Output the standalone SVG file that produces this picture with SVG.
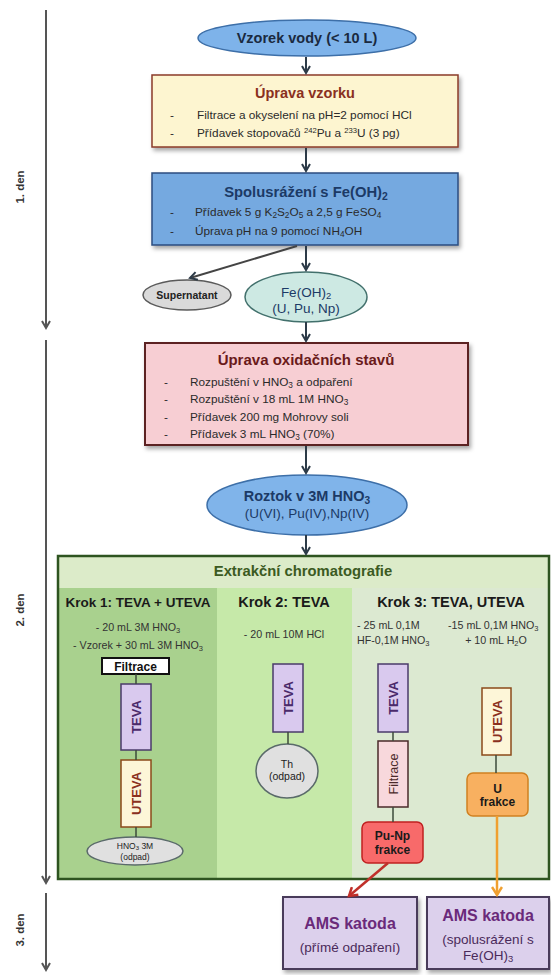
<svg xmlns="http://www.w3.org/2000/svg" width="551" height="975" viewBox="0 0 551 975">
<style>
text{font-family:"Liberation Sans",Arial,sans-serif;}
.t{font-weight:bold;text-anchor:middle;}
.b{font-size:11.8px;fill:#2a2a2a;}
.s{font-size:10.7px;fill:#333;text-anchor:middle;}
.sb{font-size:70%;baseline-shift:-0.25em;}
.sp{font-size:65%;baseline-shift:0.5em;}
.conn{stroke:#2d3b48;stroke-width:2;fill:none;}
.thin{stroke:#3c4a3a;stroke-width:1.5;fill:none;}
.rot{font-weight:bold;font-size:13px;text-anchor:middle;}
</style>
<defs>
<filter id="sh" x="-10%" y="-10%" width="125%" height="130%">
<feDropShadow dx="2" dy="3" stdDeviation="2" flood-color="#000" flood-opacity="0.35"/>
</filter>
<marker id="ah" markerWidth="10" markerHeight="10" refX="8" refY="5" orient="auto" markerUnits="userSpaceOnUse">
<path d="M1,1 L8,5 L1,9" fill="none" stroke="#2d3b48" stroke-width="2"/>
</marker>
<marker id="ahg" markerWidth="10" markerHeight="10" refX="8" refY="5" orient="auto" markerUnits="userSpaceOnUse">
<path d="M1,1 L8,5 L1,9" fill="none" stroke="#555" stroke-width="2"/>
</marker>
<marker id="ahr" markerWidth="12" markerHeight="12" refX="9" refY="6" orient="auto" markerUnits="userSpaceOnUse">
<path d="M1,1 L9,6 L1,11" fill="none" stroke="#c0302a" stroke-width="2.5"/>
</marker>
<marker id="aho" markerWidth="12" markerHeight="12" refX="9" refY="6" orient="auto" markerUnits="userSpaceOnUse">
<path d="M1,1 L9,6 L1,11" fill="none" stroke="#f0a030" stroke-width="2.5"/>
</marker>
</defs>
<rect width="551" height="975" fill="#fff"/>

<g id="timeline">
<line x1="46" y1="10" x2="46" y2="328" stroke="#555" stroke-width="2" marker-end="url(#ahg)"/>
<line x1="46" y1="340" x2="46" y2="883" stroke="#555" stroke-width="2" marker-end="url(#ahg)"/>
<line x1="46" y1="893" x2="46" y2="970" stroke="#555" stroke-width="2" marker-end="url(#ahg)"/>
<text class="t" font-size="11.5" fill="#333" transform="translate(24,187) rotate(-90)">1. den</text>
<text class="t" font-size="11.5" fill="#333" transform="translate(24,610) rotate(-90)">2. den</text>
<text class="t" font-size="11.5" fill="#333" transform="translate(24,930) rotate(-90)">3. den</text>
</g>

<g id="vzorek">
<ellipse cx="307" cy="38" rx="109" ry="18" fill="#7eb3ea" stroke="#3d6fa8" stroke-width="1.5"/>
<text class="t" x="307" y="43" font-size="14.5" fill="#1a2a40">Vzorek vody (&lt; 10 L)</text>
</g>

<g id="uprava-vzorku">
<rect x="152" y="75" width="306" height="72" fill="#fdf5d0" stroke="#8a3b2a" stroke-width="1.5" filter="url(#sh)"/>
<text class="t" x="305" y="98" font-size="14.5" fill="#8a3020">Úprava vzorku</text>
<text class="b" x="170" y="119">-</text>
<text class="b" x="197" y="119">Filtrace a okyselení na pH=2 pomocí HCl</text>
<text class="b" x="170" y="137">-</text>
<text class="b" x="197" y="137">Přídavek stopovačů <tspan class="sp">242</tspan>Pu a <tspan class="sp">233</tspan>U (3 pg)</text>
</g>

<g id="spolusrazeni">
<rect x="152" y="173" width="306" height="72" fill="#74a9e0" stroke="#2b4e80" stroke-width="1.5" filter="url(#sh)"/>
<text class="t" x="306" y="197" font-size="14.8" fill="#1c3a66">Spolusrážení s Fe(OH)<tspan class="sb">2</tspan></text>
<text class="b" x="170" y="216">-</text>
<text class="b" x="195" y="216">Přídavek 5 g K<tspan class="sb">2</tspan>S<tspan class="sb">2</tspan>O<tspan class="sb">5</tspan> a 2,5 g FeSO<tspan class="sb">4</tspan></text>
<text class="b" x="170" y="235">-</text>
<text class="b" x="195" y="235">Úprava pH na 9 pomocí NH<tspan class="sb">4</tspan>OH</text>
</g>

<g id="supernatant">
<ellipse cx="187" cy="295" rx="44" ry="15" fill="#dadada" stroke="#5a5a5a" stroke-width="1.5"/>
<text class="t" x="187" y="299" font-size="10.5" fill="#222">Supernatant</text>
</g>

<g id="feoh2">
<ellipse cx="306" cy="297" rx="61" ry="25" fill="#cde9e3" stroke="#42706c" stroke-width="1.5"/>
<text x="306" y="297" font-size="13.5" text-anchor="middle" fill="#1c3a66">Fe(OH)<tspan class="sb">2</tspan></text>
<text x="306" y="313" font-size="13.5" text-anchor="middle" fill="#1c3a66">(U, Pu, Np)</text>
</g>

<g id="uprava-oxidacnich">
<rect x="145" y="343" width="323" height="102" fill="#f7ced3" stroke="#5b2222" stroke-width="2" filter="url(#sh)"/>
<text class="t" x="306" y="365" font-size="15" fill="#6a1a1a">Úprava oxidačních stavů</text>
<text class="b" x="164" y="386">-</text>
<text class="b" x="190" y="386">Rozpuštění v HNO<tspan class="sb">3</tspan> a odpaření</text>
<text class="b" x="164" y="403">-</text>
<text class="b" x="190" y="403">Rozpuštění v 18 mL 1M HNO<tspan class="sb">3</tspan></text>
<text class="b" x="164" y="421">-</text>
<text class="b" x="190" y="421">Přídavek 200 mg Mohrovy soli</text>
<text class="b" x="164" y="438">-</text>
<text class="b" x="190" y="438">Přídavek 3 mL HNO<tspan class="sb">3</tspan> (70%)</text>
</g>

<g id="roztok">
<ellipse cx="307" cy="505" rx="100" ry="30" fill="#80b4ea" stroke="#3d6fa8" stroke-width="1.5"/>
<text class="t" x="307" y="501" font-size="14.5" fill="#1c3a66">Roztok v 3M HNO<tspan class="sb">3</tspan></text>
<text x="307" y="518" font-size="13.5" text-anchor="middle" fill="#1c3a66">(U(VI), Pu(IV),Np(IV)</text>
</g>

<g id="extrakcni">
<rect x="58" y="556" width="491" height="323" fill="#dcebc9"/>
<rect x="58" y="588" width="159" height="291" fill="#a9d18e"/>
<rect x="217" y="588" width="135" height="291" fill="#c6e9a9"/>
<rect x="352" y="588" width="197" height="291" fill="#dce9d1"/>
<rect x="58" y="556" width="491" height="323" fill="none" stroke="#2e5420" stroke-width="2.5"/>
<text class="t" x="303" y="576" font-size="14.8" fill="#3b5a22">Extrakční chromatografie</text>
</g>

<g id="krok1">
<text class="t" x="138" y="607" font-size="13.5" fill="#1a1a1a">Krok 1: TEVA + UTEVA</text>
<text class="s" x="138" y="631">- 20 mL 3M HNO<tspan class="sb">3</tspan></text>
<text class="s" x="138" y="649">- Vzorek + 30 mL 3M HNO<tspan class="sb">3</tspan></text>
</g>
<g id="k1-filtrace">
<rect x="102" y="658" width="67" height="16" fill="#fff" stroke="#111" stroke-width="2"/>
<text class="t" x="135.5" y="670.5" font-size="12" fill="#111">Filtrace</text>
</g>
<g id="k1-teva">
<rect x="121" y="684" width="30" height="66" fill="#d9c9ee" stroke="#4a3a6a" stroke-width="1.5"/>
<text class="rot" fill="#4a2a6a" transform="translate(141,717) rotate(-90)">TEVA</text>
</g>
<g id="k1-uteva">
<rect x="121" y="760" width="30" height="67" fill="#fdf6d8" stroke="#8b4a1a" stroke-width="1.5"/>
<text class="rot" fill="#8a3020" transform="translate(141,793.5) rotate(-90)">UTEVA</text>
</g>
<g id="k1-odpad">
<ellipse cx="135" cy="851" rx="48" ry="14" fill="#e0e0e0" stroke="#5a6a6a" stroke-width="1.5"/>
<text x="135" y="849" font-size="8.5" text-anchor="middle" fill="#222">HNO<tspan class="sb">3</tspan> 3M</text>
<text x="135" y="860" font-size="8.5" text-anchor="middle" fill="#222">(odpad)</text>
</g>

<g id="krok2">
<text class="t" x="284" y="607" font-size="14.5" fill="#1a1a1a">Krok 2: TEVA</text>
<text class="s" x="284" y="638">- 20 mL 10M HCl</text>
</g>
<g id="k2-teva">
<rect x="273" y="664" width="30" height="68" fill="#d9c9ee" stroke="#4a3a6a" stroke-width="1.5"/>
<text class="rot" fill="#4a2a6a" transform="translate(293,698) rotate(-90)">TEVA</text>
</g>
<g id="k2-th">
<ellipse cx="287" cy="771" rx="31" ry="27" fill="#e0e0e0" stroke="#5a6a6a" stroke-width="1.5"/>
<text x="287" y="768" font-size="10.5" text-anchor="middle" fill="#222">Th</text>
<text x="287" y="780" font-size="10.5" text-anchor="middle" fill="#222">(odpad)</text>
</g>

<g id="krok3">
<text class="t" x="451" y="607" font-size="14.5" fill="#1a1a1a">Krok 3: TEVA, UTEVA</text>
<text x="357" y="629" font-size="10.7" fill="#333">- 25 mL 0,1M</text>
<text x="357" y="644" font-size="10.7" fill="#333">HF-0,1M HNO<tspan class="sb">3</tspan></text>
<text x="448" y="629" font-size="10.7" fill="#333">-15 mL 0,1M HNO<tspan class="sb">3</tspan></text>
<text class="s" x="496" y="644">+ 10 mL H<tspan class="sb">2</tspan>O</text>
</g>
<g id="k3-teva">
<rect x="378" y="664" width="30" height="68" fill="#d9c9ee" stroke="#4a3a6a" stroke-width="1.5"/>
<text class="rot" fill="#4a2a6a" transform="translate(398,698) rotate(-90)">TEVA</text>
</g>
<g id="k3-filtrace">
<rect x="378" y="741" width="30" height="66" fill="#f8d8dc" stroke="#4a2a2a" stroke-width="1.5"/>
<text font-size="12.5" text-anchor="middle" fill="#4a2a2a" transform="translate(397.5,774) rotate(-90)">Filtrace</text>
</g>
<g id="k3-punp">
<rect x="362" y="822" width="61" height="41" rx="6" fill="#f86a6a" stroke="#c02020" stroke-width="1.5"/>
<text class="t" x="392.5" y="840" font-size="12" fill="#1a1a1a">Pu-Np</text>
<text class="t" x="392.5" y="854" font-size="12" fill="#1a1a1a">frakce</text>
</g>
<g id="k3-uteva">
<rect x="482" y="688" width="29" height="67" fill="#fdf6d8" stroke="#8b4a1a" stroke-width="1.5"/>
<text class="rot" fill="#8a3020" transform="translate(501.5,721.5) rotate(-90)">UTEVA</text>
</g>
<g id="k3-ufrakce">
<rect x="467" y="773" width="61" height="43" rx="6" fill="#f8b060" stroke="#d08020" stroke-width="1.5"/>
<text class="t" x="497.5" y="793" font-size="12" fill="#1a1a1a">U</text>
<text class="t" x="497.5" y="806" font-size="12" fill="#1a1a1a">frakce</text>
</g>

<g id="ams1">
<rect x="283" y="897" width="134" height="72" fill="#dcd0ec" stroke="#4a3a5a" stroke-width="2" filter="url(#sh)"/>
<text class="t" x="350" y="929" font-size="16" fill="#6a2a7a">AMS katoda</text>
<text x="350" y="952" font-size="13.5" text-anchor="middle" fill="#4a2a5a">(přímé odpaření)</text>
</g>
<g id="ams2">
<rect x="427" y="897" width="122" height="72" fill="#dcd0ec" stroke="#4a3a5a" stroke-width="2" filter="url(#sh)"/>
<text class="t" x="488" y="921" font-size="16" fill="#6a2a7a">AMS katoda</text>
<text x="488" y="944" font-size="13.5" text-anchor="middle" fill="#4a2a5a">(spolusrážení s</text>
<text x="488" y="960" font-size="13.5" text-anchor="middle" fill="#4a2a5a">Fe(OH)<tspan class="sb">3</tspan></text>
</g>

<g id="connectors">
<line class="conn" x1="306" y1="57" x2="306" y2="73" marker-end="url(#ah)"/>
<line class="conn" x1="306" y1="148" x2="306" y2="171" marker-end="url(#ah)"/>
<line class="conn" x1="306" y1="246" x2="306" y2="270" marker-end="url(#ah)"/>
<line x1="297" y1="246" x2="190" y2="278" stroke="#444" stroke-width="2" marker-end="url(#ah)"/>
<line class="conn" x1="306" y1="322" x2="306" y2="341" marker-end="url(#ah)"/>
<line class="conn" x1="306" y1="446" x2="306" y2="473" marker-end="url(#ah)"/>
<line class="conn" x1="306" y1="535" x2="306" y2="554" marker-end="url(#ah)"/>
<line class="thin" x1="136" y1="674" x2="136" y2="684"/>
<line class="thin" x1="136" y1="750" x2="136" y2="760"/>
<line class="thin" x1="136" y1="827" x2="136" y2="837"/>
<line class="thin" x1="288" y1="732" x2="288" y2="744"/>
<line class="thin" x1="393" y1="732" x2="393" y2="741"/>
<line class="thin" x1="393" y1="807" x2="393" y2="822"/>
<line class="thin" x1="496" y1="755" x2="496" y2="773"/>
<line x1="388" y1="863" x2="349" y2="896" stroke="#c0302a" stroke-width="2.5" marker-end="url(#ahr)"/>
<line x1="497" y1="816" x2="497" y2="895" stroke="#f0a030" stroke-width="2.5" marker-end="url(#aho)"/>
</g>
</svg>
